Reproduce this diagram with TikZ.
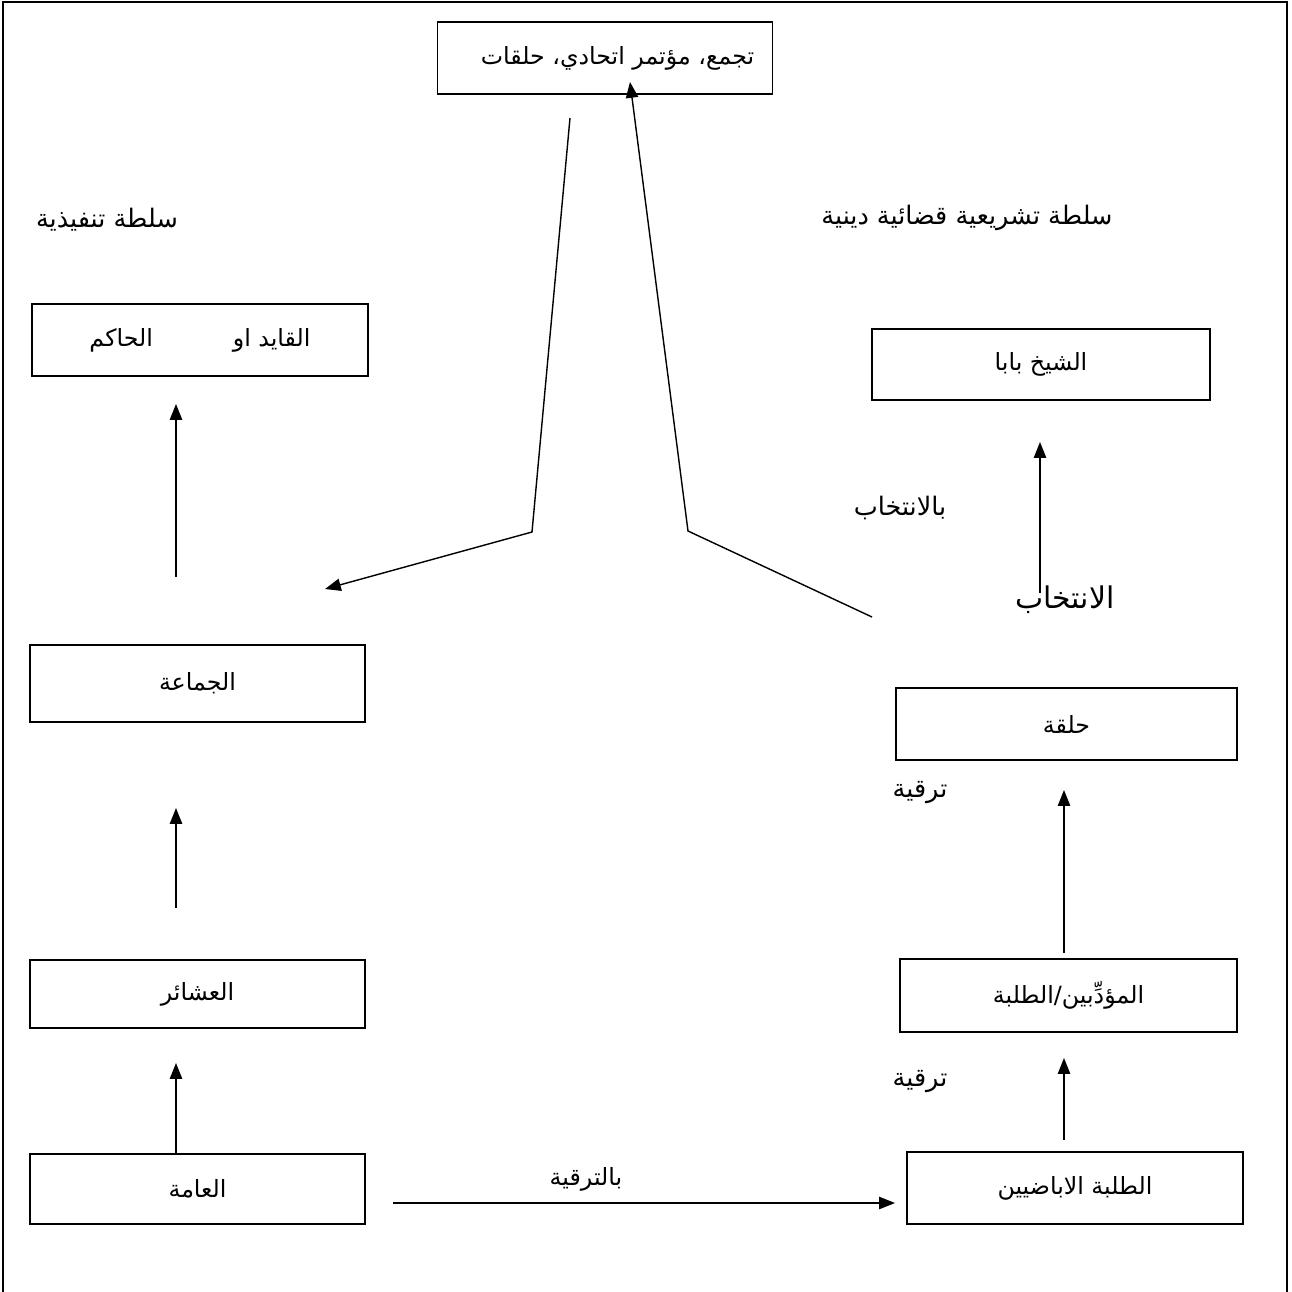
\documentclass[tikz,border=0pt]{standalone}
\usepackage{fontspec}
\TeXXeTstate=1
\newfontfamily\arabicfont[Script=Arabic]{DejaVu Sans}
\usetikzlibrary{positioning}
\usetikzlibrary{arrows.meta}

\newcommand{\artext}[1]{\beginR #1\endR}

\tikzset{
    box/.style={draw=black, line width=0.8pt, minimum width=6.7cm, minimum height=1.4cm, inner sep=0pt, font=\arabicfont\fontsize{13.5}{15}\selectfont},
    caption/.style={inner sep=0pt, font=\arabicfont\fontsize{14.5}{16}\selectfont},
    flow/.style={line width=0.8pt, -{Triangle[length=9pt, width=7pt]}},
}

\begin{document}
\begin{tikzpicture}[x=0.02cm, y=-0.02cm]
    \useasboundingbox (0, 0) rectangle (1292, 1292);
    \draw[line width=0.8pt] (3, 1292) -- (3, 2) -- (1287, 2) -- (1287, 1292);

    % boxes
    \node[box, minimum width=6.7cm, minimum height=1.44cm] (majlis) at (605, 58) {\hspace{0.5cm}\artext{تجمع، مؤتمر اتحادي، حلقات}};
    \node[box, minimum width=6.72cm, minimum height=1.44cm] (qayid) at (200, 340) {\artext{القايد او\hspace{1.6cm}الحاكم}};
    \node[box, minimum width=6.76cm, minimum height=1.42cm] (shaykh) at (1041, 364.5) {\artext{الشيخ بابا}};
    \node[box, minimum height=1.54cm] (jamaa) at (197.5, 683.5) {\artext{الجماعة}};
    \node[box, minimum width=6.82cm, minimum height=1.44cm] (halqa) at (1066.5, 724) {\artext{حلقة}};
    \node[box, minimum height=1.36cm] (ashair) at (197.5, 994) {\artext{العشائر}};
    \node[box, minimum width=6.74cm, minimum height=1.46cm] (muaddib) at (1068.5, 995.5) {\artext{المؤدِّبين/الطلبة}};
    \node[box, minimum height=1.4cm] (amma) at (197.5, 1189) {\artext{العامة}};
    \node[box, minimum width=6.72cm, minimum height=1.44cm] (talaba) at (1075, 1188) {\artext{الطلبة الاباضيين}};

    % captions
    \node[caption] (tanfidh) at (107, 220) {\artext{سلطة تنفيذية}};
    \node[caption] (tashri) at (967, 218) {\artext{سلطة تشريعية قضائية دينية}};
    \node[caption] (bintikhab) at (900, 508) {\artext{بالانتخاب}};
    \node[caption, font=\arabicfont\fontsize{17}{19}\selectfont] (intikhab) at (1065, 600) {\artext{الانتخاب}};
    \node[caption] (tarqiya1) at (920, 793) {\artext{ترقية}};
    \node[caption] (tarqiya2) at (920, 1082) {\artext{ترقية}};
    \node[box, draw=none, minimum width=0pt, minimum height=0pt] (bitarqiya) at (586, 1179) {\artext{بالترقية}};

    % free ends
    \coordinate (l1s) at (176, 577);  \coordinate (l1e) at (176, 404);
    \coordinate (l2s) at (176, 908);  \coordinate (l2e) at (176, 808);
    \coordinate (l3s) at (176, 1155); \coordinate (l3e) at (176, 1063);
    \coordinate (r1s) at (1040, 593); \coordinate (r1e) at (1040, 442);
    \coordinate (r2s) at (1064, 953); \coordinate (r2e) at (1064, 790);
    \coordinate (r3s) at (1064, 1140); \coordinate (r3e) at (1064, 1058);
    \coordinate (hs) at (393, 1203);  \coordinate (he) at (895, 1203);
    \coordinate (down) at (570, 118); \coordinate (downbend) at (532, 532); \coordinate (downend) at (325, 589);
    \coordinate (up) at (872, 617);   \coordinate (upbend) at (688, 531);   \coordinate (upend) at (630, 82);

    % arrows
    \draw[flow] (l1s) -- (l1e);
    \draw[flow] (l2s) -- (l2e);
    \draw[flow] (l3s) -- (l3e);
    \draw[flow] (r1s) -- (r1e);
    \draw[flow] (r2s) -- (r2e);
    \draw[flow] (r3s) -- (r3e);
    \draw[flow] (hs) -- (he);
    \draw[flow] (down) -- (downbend) -- (downend);
    \draw[flow] (up) -- (upbend) -- (upend);
\end{tikzpicture}
\end{document}
